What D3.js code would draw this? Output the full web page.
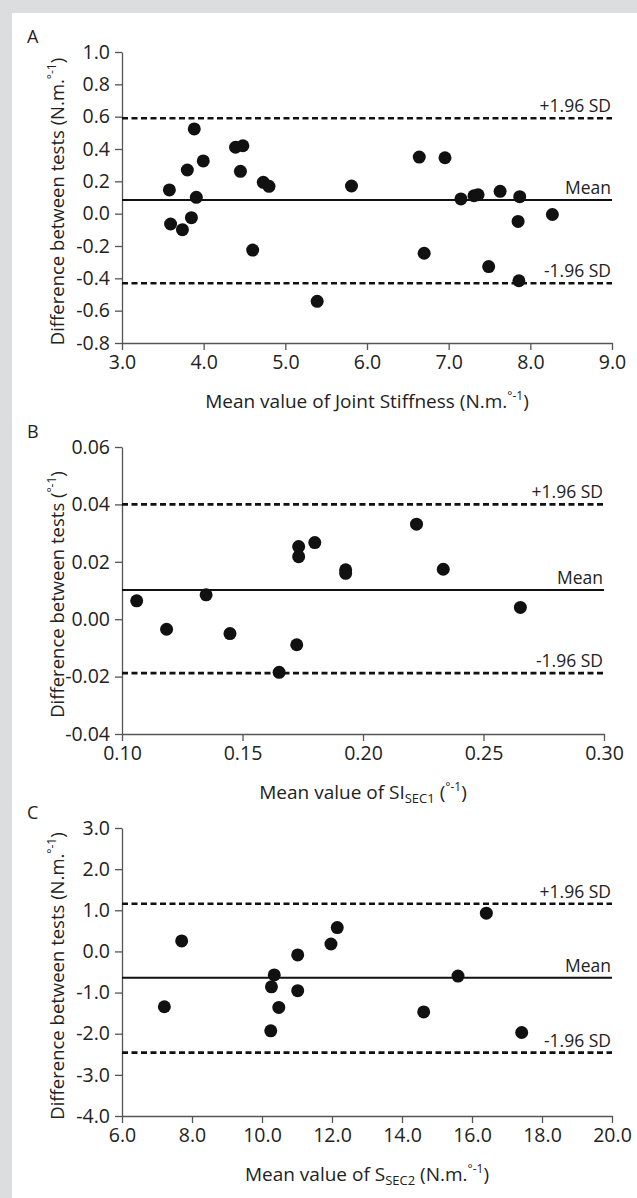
<!DOCTYPE html>
<html>
<head>
<meta charset="utf-8">
<script src="https://cdn.jsdelivr.net/npm/d3@7"></script>
<style>
  body { margin: 0; background: #fff; }
  svg { display: block; }
  text { font-family: "Open Sans", "Noto Sans", sans-serif; fill: #222; }
</style>
</head>
<body>
<div class="canvas"></div>
<script>
// panel A - joint stiffness
const aMean = [3.58, 3.595, 3.74, 3.80, 3.85, 3.885, 3.91, 3.995, 4.39, 4.45, 4.48, 4.60, 4.73, 4.80,
  5.39, 5.81, 6.64, 6.70, 6.955, 7.15, 7.31, 7.36, 7.49, 7.63, 7.85, 7.86, 7.87, 8.27];
const aDiff = [0.147, -0.064, -0.099, 0.270, -0.025, 0.524, 0.101, 0.326, 0.411, 0.262, 0.420, -0.225, 0.194, 0.169,
  -0.542, 0.171, 0.350, -0.245, 0.346, 0.091, 0.111, 0.117, -0.327, 0.138, -0.048, -0.415, 0.105, -0.005];
const aLines = [0.59, 0.085, -0.43];
const aXTicks = [3, 4, 5, 6, 7, 8, 9];
const aYTicks = [-0.8, -0.6, -0.4, -0.2, 0, 0.2, 0.4, 0.6, 0.8, 1.0];

// panel B - SI SEC1
const bMean = [0.1061, 0.1185, 0.1349, 0.1448, 0.1652, 0.1725, 0.1733, 0.1733, 0.180, 0.1928, 0.1928, 0.2222, 0.2333, 0.2653];
const bDiff = [0.0064, -0.0035, 0.0085, -0.005, -0.0185, -0.0089, 0.0253, 0.0218, 0.0267, 0.0172, 0.0160, 0.0331, 0.0174, 0.0041];
const bLines = [0.040, 0.0102, -0.0188];
const bXTicks = [0.10, 0.15, 0.20, 0.25, 0.30];
const bYTicks = [-0.04, -0.02, 0, 0.02, 0.04, 0.06];

// panel C - S SEC2
const cMean = [7.21, 7.705, 10.25, 10.27, 10.35, 10.48, 11.02, 11.02, 11.97, 12.15, 14.62, 15.6, 16.41, 17.42];
const cDiff = [-1.345, 0.255, -1.93, -0.86, -0.57, -1.36, -0.085, -0.955, 0.18, 0.58, -1.47, -0.60, 0.93, -1.97];
const cLines = [1.16, -0.64, -2.46];
const cXTicks = [6, 8, 10, 12, 14, 16, 18, 20];
const cYTicks = [-4, -3, -2, -1, 0, 1, 2, 3];

const lineLabels = ['+1.96 SD', 'Mean', '-1.96 SD'];

const dims = { width: 637, height: 1198 };

const svg = d3.select('.canvas')
  .append('svg')
  .attr('width', dims.width)
  .attr('height', dims.height);

// grey frame top and left
svg.append('rect').attr('x', 0).attr('y', 0).attr('width', dims.width).attr('height', 13).attr('fill', '#dcddde');
svg.append('rect').attr('x', 0).attr('y', 0).attr('width', 12).attr('height', dims.height).attr('fill', '#dcddde');

// draw one Bland-Altman panel
const drawPanel = function(p) {
  const x = d3.scaleLinear().domain(p.xDomain).range([p.left, p.right]);
  const y = d3.scaleLinear().domain(p.yDomain).range([p.bottom, p.top]);
  const g = svg.append('g');

  // panel letter
  g.append('text')
    .attr('x', 27).attr('y', p.top - 9)
    .attr('font-size', 18)
    .text(p.letter);

  // axes
  const xAxis = g.append('g')
    .attr('transform', `translate(0,${p.bottom})`)
    .call(d3.axisBottom(x).tickValues(p.xTicks).tickSize(7).tickSizeOuter(0)
      .tickFormat(d => d.toFixed(p.xDec)));
  const yAxis = g.append('g')
    .attr('transform', `translate(${p.left},0)`)
    .call(d3.axisLeft(y).tickValues(p.yTicks).tickSize(7).tickSizeOuter(0)
      .tickFormat(d => d.toFixed(p.yDec)));
  [xAxis, yAxis].forEach(ax => {
    ax.select('.domain').attr('stroke', '#555').attr('stroke-width', 1.3);
    ax.selectAll('.tick line').attr('stroke', '#555').attr('stroke-width', 1.3);
    ax.selectAll('.tick text')
      .attr('font-family', '"Open Sans", sans-serif')
      .attr('font-size', 19.5)
      .attr('fill', '#222');
  });
  xAxis.selectAll('.tick text').attr('dy', '0.82em');
  yAxis.selectAll('.tick text').attr('x', -12);

  // reference lines
  p.lines.forEach((v, i) => {
    g.append('line')
      .attr('x1', p.left).attr('x2', p.right)
      .attr('y1', y(v)).attr('y2', y(v))
      .attr('stroke', '#111')
      .attr('stroke-width', i === 1 ? 2 : 2.6)
      .attr('stroke-dasharray', i === 1 ? null : '6,3.5');
    g.append('text')
      .attr('x', p.right - 1).attr('y', y(v) - 6)
      .attr('text-anchor', 'end')
      .attr('font-size', 17.5)
      .text(lineLabels[i]);
  });

  // points
  g.selectAll('circle')
    .data(p.xs.map((d, i) => ({ x: d, y: p.ys[i] })))
    .enter()
    .append('circle')
    .attr('cx', d => x(d.x))
    .attr('cy', d => y(d.y))
    .attr('r', 6.5)
    .attr('fill', '#111');

  // x title
  const xt = g.append('text')
    .attr('x', (p.left + p.right) / 2)
    .attr('y', p.bottom + 65)
    .attr('text-anchor', 'middle')
    .attr('font-size', 19);
  p.xTitle(xt);

  // y title
  const yt = g.append('text')
    .attr('transform', `translate(64,${(p.top + p.bottom) / 2 + 4}) rotate(-90)`)
    .attr('text-anchor', 'middle')
    .attr('font-size', 18.5);
  p.yTitle(yt);
};

// unit helper: "(N.m.°-1)" with superscript
const unitNm = function(t) {
  t.append('tspan').text('(N.m.');
  t.append('tspan').attr('font-size', 12).attr('dy', -8).text('°-1');
  t.append('tspan').attr('dy', 8).text(')');
};
const unitDeg = function(t) {
  t.append('tspan').text('(');
  t.append('tspan').attr('font-size', 12).attr('dy', -8).text('°-1');
  t.append('tspan').attr('dy', 8).text(')');
};

drawPanel({
  letter: 'A', left: 122, right: 612, top: 52, bottom: 343,
  xDomain: [3, 9], yDomain: [-0.8, 1.0], xTicks: aXTicks, yTicks: aYTicks, xDec: 1, yDec: 1,
  xs: aMean, ys: aDiff, lines: aLines,
  xTitle: t => { t.append('tspan').text('Mean value of Joint Stiffness '); unitNm(t); },
  yTitle: t => { t.append('tspan').text('Difference between tests '); unitNm(t); }
});

drawPanel({
  letter: 'B', left: 122, right: 604, top: 447, bottom: 734,
  xDomain: [0.10, 0.30], yDomain: [-0.04, 0.06], xTicks: bXTicks, yTicks: bYTicks, xDec: 2, yDec: 2,
  xs: bMean, ys: bDiff, lines: bLines,
  xTitle: t => {
    t.append('tspan').text('Mean value of SI');
    t.append('tspan').attr('font-size', 13).attr('dy', 4).text('SEC1');
    t.append('tspan').attr('dy', -4).text(' ');
    unitDeg(t);
  },
  yTitle: t => { t.append('tspan').text('Difference between tests '); unitDeg(t); }
});

drawPanel({
  letter: 'C', left: 122, right: 612, top: 828, bottom: 1116,
  xDomain: [6, 20], yDomain: [-4, 3], xTicks: cXTicks, yTicks: cYTicks, xDec: 1, yDec: 1,
  xs: cMean, ys: cDiff, lines: cLines,
  xTitle: t => {
    t.append('tspan').text('Mean value of S');
    t.append('tspan').attr('font-size', 13).attr('dy', 4).text('SEC2');
    t.append('tspan').attr('dy', -4).text(' ');
    unitNm(t);
  },
  yTitle: t => { t.append('tspan').text('Difference between tests '); unitNm(t); }
});
</script>
</body>
</html>
